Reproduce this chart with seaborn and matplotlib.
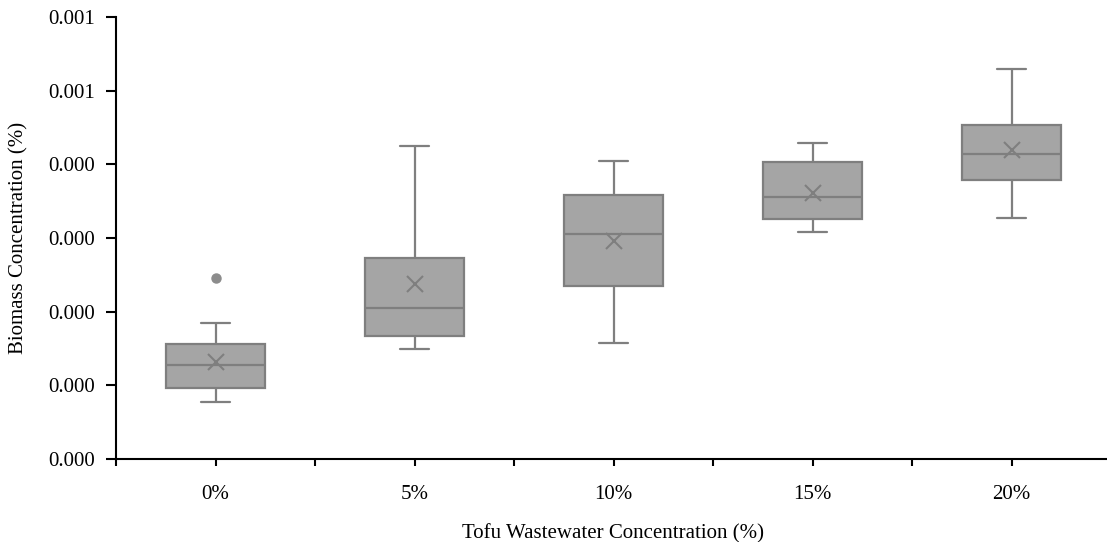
import numpy as np
import pandas as pd
import matplotlib
matplotlib.use("Agg")
import matplotlib.pyplot as plt
import seaborn as sns

# ---- data ----
categories = ["0%", "5%", "10%", "15%", "20%"]
whisker_low = [0.0000767, 0.0001495, 0.0001572, 0.0003085, 0.0003267]
q1 = [0.0000962, 0.0001671, 0.0002353, 0.0003253, 0.0003786]
median = [0.0001274, 0.0002055, 0.0003050, 0.0003556, 0.0004134]
q3 = [0.0001563, 0.0002733, 0.0003583, 0.0004026, 0.0004532]
whisker_high = [0.0001852, 0.0004251, 0.0004040, 0.0004284, 0.0005291]
means = [0.0001323, 0.0002372, 0.0002959, 0.0003614, 0.0004193]
outlier_cats = ["0%"]
outlier_vals = [0.0002454]
y_ticks = [0, 0.0001, 0.0002, 0.0003, 0.0004, 0.0005, 0.0006]
y_ticklabels = ["0.000", "0.000", "0.000", "0.000", "0.000", "0.001", "0.001"]

rows = []
for c, a, b, m, d, e in zip(categories, whisker_low, q1, median, q3, whisker_high):
    for v in (a, b, m, d, e):
        rows.append({"cat": c, "val": v})
df = pd.DataFrame(rows)

sns.set_theme(style="white")
plt.rcParams["font.family"] = ["Liberation Serif", "DejaVu Serif"]

fig = plt.figure(figsize=(11.07, 5.42), dpi=100)
ax = fig.add_axes([116 / 1107, 1 - 459 / 542, 995 / 1107, (459 - 17) / 542])

box_fill = "#a5a5a5"
edge = "#7f7f7f"
lw = 1.6
fs = 15
sns.boxplot(data=df, x="cat", y="val", order=categories, whis=(0, 100),
            width=0.5, color=box_fill, showfliers=False, linewidth=lw,
            linecolor=edge, saturation=1, ax=ax,
            boxprops=dict(facecolor=box_fill, edgecolor=edge, linewidth=lw),
            medianprops=dict(color=edge, linewidth=lw),
            whiskerprops=dict(color=edge, linewidth=lw),
            capprops=dict(color=edge, linewidth=lw))

# shorten caps
for ln in ax.lines:
    xd = np.asarray(ln.get_xdata(), dtype=float)
    yd = np.asarray(ln.get_ydata(), dtype=float)
    if len(xd) == 2 and np.isclose(yd[0], yd[1]):
        span = abs(xd[1] - xd[0])
        if 0.1 < span < 0.4:
            c = xd.mean()
            ln.set_xdata([c - 0.075, c + 0.075])

pos = {c: i for i, c in enumerate(categories)}
ax.plot([pos[c] for c in categories], means, linestyle="none", marker="x",
        markersize=12, markeredgewidth=1.5, color=edge, zorder=5)
ax.plot([pos[c] for c in outlier_cats], outlier_vals, linestyle="none", marker="o",
        markersize=6.5, markerfacecolor="#8c8c8c", markeredgecolor="#8c8c8c", zorder=5)

ax.set_xlim(-0.5, 4.5)
ax.set_ylim(0, 0.0006)
ax.set_yticks(y_ticks)
ax.set_yticklabels(y_ticklabels, fontsize=fs)
ax.set_xticks(range(len(categories)))
ax.set_xticklabels(categories, fontsize=fs)
ax.set_xticks(np.arange(-0.5, 5.0, 1.0), minor=True)

for s in ["top", "right"]:
    ax.spines[s].set_visible(False)
for s in ["left", "bottom"]:
    ax.spines[s].set_color("black")
    ax.spines[s].set_linewidth(1.5)

ax.tick_params(axis="y", which="major", direction="out", length=7, width=1.5,
               color="black", left=True, pad=8, labelcolor="black")
ax.tick_params(axis="x", which="both", direction="out", length=5, width=1.5,
               color="black", bottom=True, pad=14, labelcolor="black")

ax.set_xlabel("Tofu Wastewater Concentration (%)", fontsize=fs, labelpad=14, color="black")
ax.set_ylabel("Biomass Concentration (%)", fontsize=fs, labelpad=14, color="black")
ax.grid(False)

fig.savefig("out.png", dpi=100)
